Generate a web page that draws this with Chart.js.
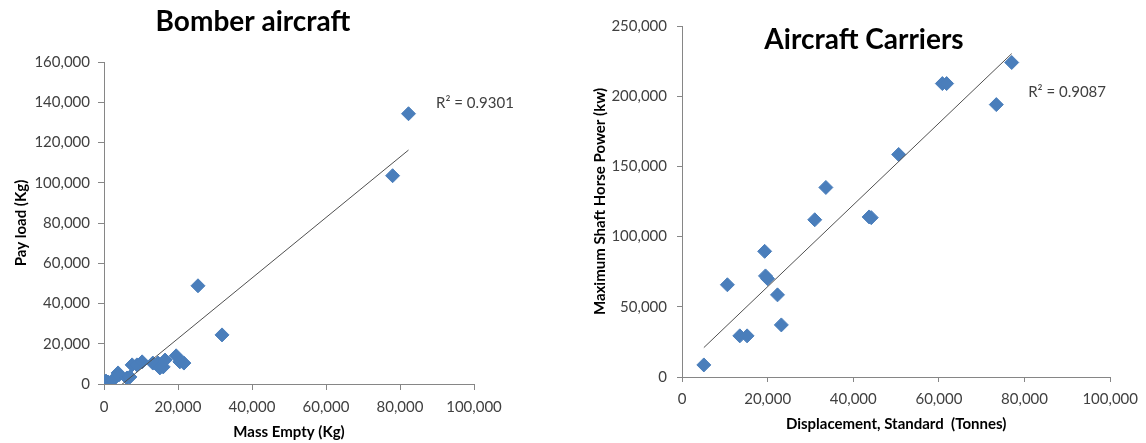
<!DOCTYPE html>
<html>
<head>
<meta charset="utf-8">
<script src="https://cdn.jsdelivr.net/npm/chart.js@4.4.0/dist/chart.umd.min.js"></script>
<style>
  body { margin: 0; background: #fff; }
  #wrap { position: relative; width: 1146px; height: 443px; }
  .box { position: absolute; top: 0; height: 443px; }
  #left { left: 0; width: 540px; }
  #right { left: 540px; width: 606px; }
</style>
</head>
<body>
<div id="wrap">
  <div class="box" id="left"><canvas id="bomberChart"></canvas></div>
  <div class="box" id="right"><canvas id="carrierChart"></canvas></div>
</div>
<script>
// bomber aircraft: mass empty vs pay load (kg)
const bomberMass = [500, 1100, 2400, 3800, 4000, 6200, 7000, 7600, 8900, 10300, 13200, 14600, 15100, 16000, 16500, 19500, 20500, 21600, 25400, 31900, 78000, 82300]
const bomberPayload = [1500, 1000, 2000, 5500, 4500, 3000, 3500, 9500, 9500, 11000, 10400, 10400, 8000, 8500, 11900, 14000, 11000, 10400, 48800, 24400, 103500, 134300]

// aircraft carriers: displacement (tonnes) vs shaft horse power (kw)
const carrierDisp = [5100, 10600, 13500, 15200, 19300, 19500, 20000, 22300, 23200, 31000, 33600, 43700, 44200, 50600, 60800, 61800, 73400, 77000]
const carrierPower = [8600, 65700, 29300, 29300, 89500, 72000, 70000, 58500, 37100, 112000, 135000, 114000, 113500, 158500, 209000, 209000, 194000, 224000]

const bomberTicks = [0, 160000, 20000]
const bomberXTicks = [0, 100000, 20000]
const carrierTicks = [0, 250000, 50000]
const carrierXTicks = [0, 100000, 20000]

const bomberR2 = 'R² = 0.9301'
const carrierR2 = 'R² = 0.9087'

const markerColor = '#4A7EBB'
const axisColor = '#868686'
const labelColor = '#404040'

function toPoints(xs, ys) {
  return xs.map((x, i) => ({x: x, y: ys[i]}))
}

// least squares line over the data range, like the excel trendline
function trendLine(xs, ys) {
  const n = xs.length
  const mx = xs.reduce((a, b) => a + b, 0) / n
  const my = ys.reduce((a, b) => a + b, 0) / n
  let sxy = 0, sxx = 0
  xs.forEach((x, i) => {
    sxy += (x - mx) * (ys[i] - my)
    sxx += (x - mx) * (x - mx)
  })
  const slope = sxy / sxx
  const icpt = my - slope * mx
  const lo = Math.min(...xs), hi = Math.max(...xs)
  return [{x: lo, y: icpt + slope * lo}, {x: hi, y: icpt + slope * hi}]
}

const fmt = v => Number(v).toLocaleString('en-US')

// draws the chart title and the R² note
const notePlugin = {
  id: 'notes',
  afterDraw(chart, args, opts) {
    const {ctx, chartArea} = chart
    ctx.save()
    ctx.fillStyle = '#000'
    ctx.font = 'bold 28px Lato'
    ctx.textAlign = 'center'
    ctx.textBaseline = 'middle'
    ctx.fillText(opts.title, chartArea.left + opts.titleDx, opts.titleY)
    ctx.fillStyle = labelColor
    ctx.font = '15px Lato'
    ctx.textAlign = 'left'
    ctx.fillText(opts.r2, chartArea.right + opts.r2Dx, opts.r2Y)
    ctx.restore()
  }
}

function makeChart(id, cfg) {
  return new Chart(document.getElementById(id), {
    type: 'scatter',
    data: {
      datasets: [
        {
          data: toPoints(cfg.xs, cfg.ys),
          pointStyle: 'rectRot',
          pointRadius: 7,
          pointBackgroundColor: markerColor,
          pointBorderColor: markerColor,
          pointBorderWidth: 1,
          order: 1
        },
        {
          data: trendLine(cfg.xs, cfg.ys),
          showLine: true,
          pointRadius: 0,
          borderColor: '#505050',
          borderWidth: 1,
          order: 0
        }
      ]
    },
    options: {
      responsive: true,
      maintainAspectRatio: false,
      animation: false,
      layout: {padding: cfg.padding},
      plugins: {
        legend: {display: false},
        tooltip: {enabled: false},
        notes: cfg.notes
      },
      scales: {
        x: {
          type: 'linear',
          min: cfg.xTicks[0], max: cfg.xTicks[1],
          afterFit: s => { s.height = cfg.xHeight },
          ticks: {stepSize: cfg.xTicks[2], callback: fmt, color: labelColor,
                  font: {family: 'Lato', size: 15}, padding: 8, maxRotation: 0},
          grid: {drawOnChartArea: false, drawTicks: true, tickLength: cfg.tickLen, color: axisColor},
          border: {color: axisColor},
          title: {display: true, text: cfg.xTitle, color: '#000',
                  font: {family: 'Lato', size: 15, weight: 'bold'},
                  padding: {top: 0, bottom: cfg.xTitlePad}}
        },
        y: {
          type: 'linear',
          min: cfg.yTicks[0], max: cfg.yTicks[1],
          afterFit: s => { s.width = cfg.yWidth },
          ticks: {stepSize: cfg.yTicks[2], callback: fmt, color: labelColor,
                  font: {family: 'Lato', size: 15}, padding: cfg.yTickPad},
          grid: {drawOnChartArea: false, drawTicks: true, tickLength: cfg.tickLen, color: axisColor},
          border: {color: axisColor},
          title: {display: true, text: cfg.yTitle, color: '#000',
                  font: {family: 'Lato', size: 15, weight: 'bold'},
                  padding: {top: cfg.yTitlePad, bottom: 0}}
        }
      }
    },
    plugins: [notePlugin]
  })
}

makeChart('bomberChart', {
  xs: bomberMass, ys: bomberPayload,
  xTicks: bomberXTicks, yTicks: bomberTicks,
  xTitle: 'Mass Empty (Kg)', yTitle: 'Pay load (Kg)',
  padding: {top: 62, right: 66, left: 0, bottom: 0},
  xHeight: 59, yWidth: 104, tickLen: 6, yTickPad: 8,
  xTitlePad: 2, yTitlePad: 12,
  notes: {title: 'Bomber aircraft', titleDx: 149, titleY: 22, r2: bomberR2, r2Dx: -38, r2Y: 103}
})

makeChart('carrierChart', {
  xs: carrierDisp, ys: carrierPower,
  xTicks: carrierXTicks, yTicks: carrierTicks,
  xTitle: 'Displacement, Standard  (Tonnes)', yTitle: 'Maximum Shaft Horse Power (kw)',
  padding: {top: 26, right: 29, left: 0, bottom: 0},
  xHeight: 66, yWidth: 142, tickLen: 5, yTickPad: 10,
  xTitlePad: 10, yTitlePad: 51,
  notes: {title: 'Aircraft Carriers', titleDx: 182, titleY: 40, r2: carrierR2, r2Dx: -82, r2Y: 92}
})
</script>
</body>
</html>
